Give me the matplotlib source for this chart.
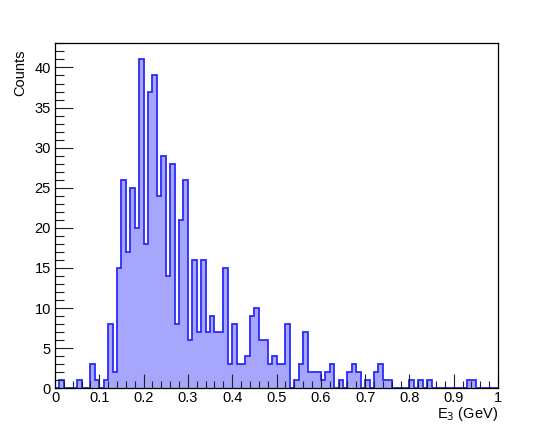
import matplotlib
matplotlib.use("Agg")
import matplotlib.pyplot as plt
import numpy as np
from matplotlib.ticker import MultipleLocator

plt.rcParams["font.family"] = ["Liberation Sans", "DejaVu Sans"]

# histogram: 100 bins on [0, 1]
x_min, x_max, n_bins = 0.0, 1.0, 100
counts = [
    0, 1, 0, 0, 0, 1, 0, 0, 3, 1,
    0, 1, 8, 2, 15, 26, 17, 25, 20, 41,
    18, 37, 39, 24, 29, 14, 28, 8, 21, 26,
    6, 16, 7, 16, 7, 9, 7, 7, 15, 3,
    8, 3, 3, 4, 9, 10, 6, 6, 3, 4,
    3, 3, 8, 0, 1, 3, 7, 2, 2, 2,
    1, 2, 3, 0, 1, 0, 2, 3, 2, 0,
    1, 0, 2, 3, 1, 1, 0, 0, 0, 0,
    1, 0, 1, 0, 1, 0, 0, 0, 0, 0,
    0, 0, 0, 1, 1, 0, 0, 0, 0, 0,
]
x_title = r"E$_3$ (GeV)"
y_title = "Counts"

edges = np.linspace(x_min, x_max, n_bins + 1)
counts = np.array(counts, dtype=float)

fig = plt.figure(figsize=(5.54, 4.33), dpi=100)
ax = fig.add_axes([55 / 554, 1 - 388.3 / 433, 443 / 554, 345.3 / 433])

ax.stairs(counts, edges, fill=True, color="#a6a6fc", lw=0)
ax.stairs(counts, edges, fill=False, color="#2a2aff", lw=1.3, baseline=0)

ax.set_xlim(x_min, x_max)
ax.set_ylim(0, counts.max() * 1.05)

ax.xaxis.set_major_locator(MultipleLocator(0.1))
ax.xaxis.set_minor_locator(MultipleLocator(0.02))
ax.yaxis.set_major_locator(MultipleLocator(5))
ax.yaxis.set_minor_locator(MultipleLocator(1))
ax.xaxis.set_major_formatter(plt.FuncFormatter(lambda v, p: f"{v:g}"))

ax.tick_params(which="both", direction="in", top=False, right=False,
               labelsize=10.5, width=0.8, color="#222222")
ax.tick_params(axis="x", which="major", length=10, pad=2)
ax.tick_params(axis="x", which="minor", length=5)
ax.tick_params(axis="y", which="major", length=13, pad=3)
ax.tick_params(axis="y", which="minor", length=6.5)
for s in ax.spines.values():
    s.set_linewidth(0.9)

fig.text(498 / 554, 1 - 405 / 433, x_title, ha="right", va="top", fontsize=10.5)
fig.text(20 / 554, 1 - 49 / 433, y_title, ha="center", va="top",
         rotation=90, fontsize=10.5)

fig.savefig("out.png", dpi=100)
